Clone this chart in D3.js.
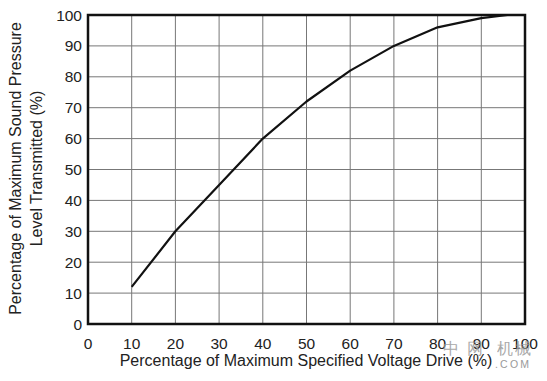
<!DOCTYPE html>
<html><head><meta charset="utf-8">
<script src="https://cdn.jsdelivr.net/npm/d3@7"></script>
<style>body{margin:0;background:#fff}svg{display:block}text{font-family:"Liberation Sans",Arial,sans-serif;fill:#222}</style>
</head><body><svg id="c" width="547" height="381"></svg>
<script>
const xVals = [10, 20, 30, 40, 50, 60, 70, 80, 90, 96];
const yVals = [12, 30, 45, 60, 72, 82, 90, 96, 99, 100];
const xTicks = [0,10,20,30,40,50,60,70,80,90,100];
const yTicks = [0,10,20,30,40,50,60,70,80,90,100];
const xTitle = "Percentage of Maximum Specified Voltage Drive (%)";
const yTitle = ["Percentage of Maximum Sound Pressure", "Level Transmitted (%)"];
const wmChars = ["中","网","机","械"];

const svg = d3.select("#c");
const L=88,R=525,T=15,B=324;
const x = d3.scaleLinear().domain([0,100]).range([L,R]);
const y = d3.scaleLinear().domain([0,100]).range([B,T]);

svg.append("g").selectAll("line").data(xTicks.slice(1,-1)).join("line")
  .attr("x1",d=>x(d)).attr("x2",d=>x(d)).attr("y1",T).attr("y2",B)
  .attr("stroke","#777").attr("stroke-width",1);
svg.append("g").selectAll("line").data(yTicks.slice(1,-1)).join("line")
  .attr("y1",d=>y(d)).attr("y2",d=>y(d)).attr("x1",L).attr("x2",R)
  .attr("stroke","#777").attr("stroke-width",1);

svg.append("rect").attr("x",L).attr("y",T).attr("width",R-L).attr("height",B-T)
  .attr("fill","none").attr("stroke","#111").attr("stroke-width",2.5);

const line = d3.line().x((d,i)=>x(xVals[i])).y(d=>y(d));
svg.append("path").datum(yVals).attr("d",line).attr("fill","none")
  .attr("stroke","#111").attr("stroke-width",2.2).attr("stroke-linejoin","round");

svg.append("g").selectAll("text").data(xTicks).join("text")
  .attr("x",d=>x(d)).attr("y",349).attr("text-anchor","middle")
  .attr("font-size",15.5).text(d=>d);
svg.append("g").selectAll("text").data(yTicks).join("text")
  .attr("x",L-6).attr("y",d=>y(d)+5.5).attr("text-anchor","end")
  .attr("font-size",15.5).text(d=>d);

svg.append("text").attr("x",306).attr("y",366).attr("text-anchor","middle")
  .attr("font-size",16).text(xTitle);
yTitle.forEach((t,i)=>{
  svg.append("text").attr("transform",`translate(${21+i*20.5},168.5) rotate(-90)`)
    .attr("text-anchor","middle").attr("font-size",16).text(t);
});

// watermark
const wmX = [443, 467, 497, 515];
svg.append("g").selectAll("text").data(wmChars).join("text")
  .attr("x",(d,i)=>wmX[i]).attr("y",354).attr("font-size",16)
  .attr("font-family","Noto Sans CJK SC").attr("font-weight",300)
  .style("fill","#9a9a9a").attr("opacity",0.85).text(d=>d);
svg.append("text").attr("x",495).attr("y",368).attr("font-size",10.5)
  .style("fill","#9a9a9a").attr("letter-spacing",2.2).text(".COM");
</script></body></html>
